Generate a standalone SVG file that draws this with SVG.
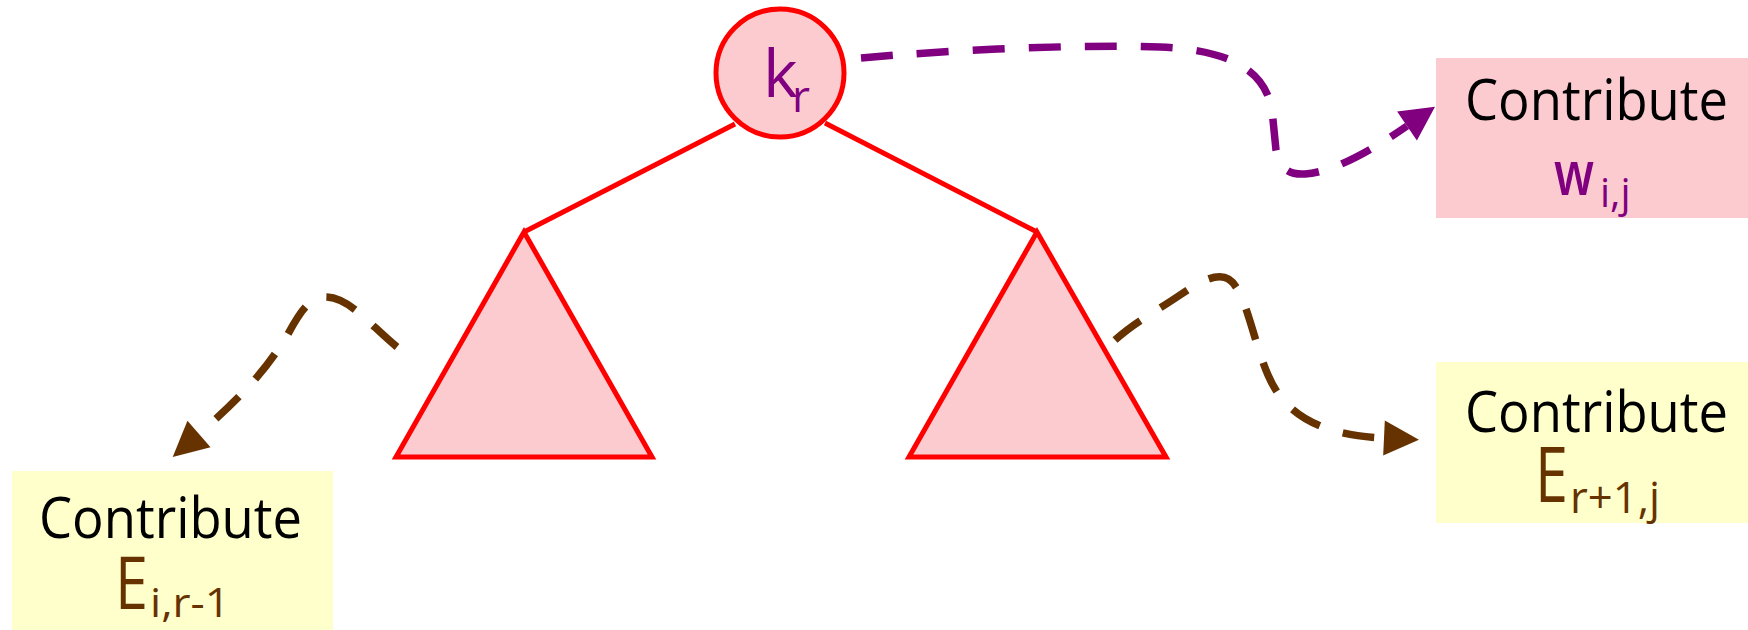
<svg xmlns="http://www.w3.org/2000/svg" width="1748" height="630" viewBox="0 0 1748 630">
<defs>
<style>
.tree{stroke:#ff0000;stroke-width:5;fill:#fccbd0;stroke-linejoin:miter}
.edge{stroke:#ff0000;stroke-width:5;fill:none}
.dash{fill:none;stroke-width:7.5;stroke-dasharray:32 24}
.pur{stroke:#800080}
.brn{stroke:#663300}
.t{font-family:"Open Sans","Liberation Sans",sans-serif}
.lbl{font-size:56px;fill:#000}
</style>
<marker id="ahP" markerUnits="userSpaceOnUse" markerWidth="44" markerHeight="44" viewBox="-2 -22 44 44" refX="0" refY="0" orient="auto">
<path d="M0,-17.5 L34,0 L0,17.5 z" fill="#800080"/>
</marker>
<marker id="ahB" markerUnits="userSpaceOnUse" markerWidth="44" markerHeight="44" viewBox="-2 -22 44 44" refX="0" refY="0" orient="auto">
<path d="M0,-17.5 L35,0 L0,17.5 z" fill="#663300"/>
</marker>
</defs>
<rect width="1748" height="630" fill="#ffffff"/>

<g id="edges">
<line class="edge" x1="735" y1="124" x2="524" y2="232"/>
<line class="edge" x1="825" y1="123" x2="1037" y2="232"/>
</g>

<g id="root">
<circle cx="780" cy="73" r="64" class="tree"/>
<text class="t" fill="#800080" font-weight="500"><tspan x="763" y="97" font-size="66">k</tspan><tspan x="792" y="112" font-size="44">r</tspan></text>
</g>

<g id="left-subtree">
<polygon class="tree" points="524,232 396,457 652,457"/>
</g>
<g id="right-subtree">
<polygon class="tree" points="1037,232 909,457 1166,457"/>
</g>

<g id="box-w">
<rect x="1436" y="58" width="312" height="160" fill="#fccbd0"/>
<text class="t lbl" x="1465" y="120" textLength="263" lengthAdjust="spacingAndGlyphs">Contribute</text>
<text class="t" fill="#800080" font-weight="600"><tspan x="1554" y="195" font-size="62" textLength="40" lengthAdjust="spacingAndGlyphs">w</tspan><tspan x="1600" y="207" font-size="40" font-weight="400">i,j</tspan></text>
</g>

<g id="box-er">
<rect x="1436" y="362" width="312" height="161" fill="#ffffcc"/>
<text class="t lbl" x="1465" y="432" textLength="263" lengthAdjust="spacingAndGlyphs">Contribute</text>
<text class="t" fill="#663300"><tspan x="1535" y="502" font-size="76" textLength="33" lengthAdjust="spacingAndGlyphs">E</tspan><tspan x="1570" y="513" font-size="43" textLength="90" lengthAdjust="spacingAndGlyphs">r+1,j</tspan></text>
</g>

<g id="box-el">
<rect x="12" y="471" width="321" height="159" fill="#ffffcc"/>
<text class="t lbl" x="39" y="538" textLength="263" lengthAdjust="spacingAndGlyphs">Contribute</text>
<text class="t" fill="#663300"><tspan x="115" y="609" font-size="74" textLength="33" lengthAdjust="spacingAndGlyphs">E</tspan><tspan x="150" y="617" font-size="41" textLength="80" lengthAdjust="spacingAndGlyphs">i,r-1</tspan></text>
</g>

<g id="connectors">
<path class="dash pur" d="M861,58 C950,50 1080,44 1160,47 C1230,50 1265,70 1272,110 L1276,150 C1280,170 1290,175 1305,174 C1335,172 1375,148 1407,126" marker-end="url(#ahP)"/>
<path class="dash brn" d="M397,347 C370,325 350,298 327,297 C310,296 300,312 288,334 C265,372 240,398 199,434" marker-end="url(#ahB)"/>
<path class="dash brn" d="M1115,340 C1135,322 1155,312 1180,295 C1205,278 1225,268 1236,287 C1248,305 1255,345 1268,375 C1285,415 1320,435 1384,438" marker-end="url(#ahB)"/>
</g>
</svg>
